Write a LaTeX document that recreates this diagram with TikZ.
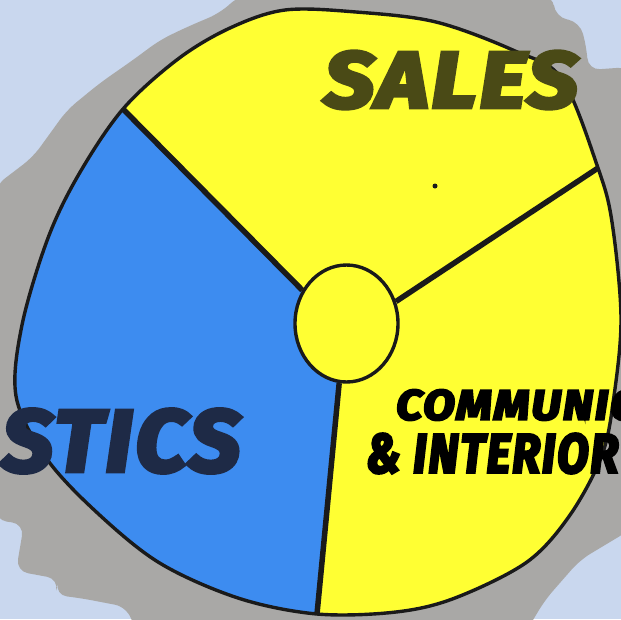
\documentclass[tikz,border=0pt]{standalone}
\usepackage{fontspec}
\usepackage{graphicx}
\usetikzlibrary{shapes.geometric, calc, backgrounds}
\newfontfamily\lblfont{Fira Sans}[BoldItalicFeatures={FakeBold=5}, LetterSpace=4]
\definecolor{paper}{HTML}{C9D7EE}
\definecolor{shadowGrey}{HTML}{A9A8A6}
\definecolor{pieYel}{HTML}{FFFF33}
\definecolor{pieBlue}{HTML}{3D8CF0}
\definecolor{ink}{HTML}{1A1A1A}
\definecolor{salesInk}{HTML}{4A4A16}
\definecolor{logInk}{HTML}{1E2A46}
\newcommand{\lbltext}[3]{\resizebox{#1}{#2}{\lblfont\bfseries\itshape #3}}

\begin{document}
\begin{tikzpicture}[x=1pt, y=-1pt,
  hub/.style={ellipse, draw=ink, line width=3.4pt, fill=pieYel, minimum width=103pt, minimum height=117pt, inner sep=0pt},
  spoke/.style={draw=ink, line width=5.5pt},
  rim/.style={draw=ink, line width=3.4pt},
  lbl/.style={inner sep=0pt},
  speck/.style={circle, fill=ink, inner sep=0pt, minimum size=5pt}]
\useasboundingbox (0,0) rectangle (621,619);
\clip (0,0) rectangle (621,619);
\coordinate (rimA) at (123,109);
\coordinate (rimB) at (598,168);
\coordinate (rimC) at (317,614);
\path[save path=\rimpath] plot[smooth cycle, tension=0.55] coordinates {(285,10) (356,12) (436,22) (515,51) (562,79) (rimB) (612,222) (621,317) (614,396) (602,455) (570,515) (527,562) (455,598) (396,612) (rimC) (238,598) (158,562) (91,507) (44,455) (16,396) (22,325) (48,238) (79,174) (rimA) (178,59) (230,28)};
\node[hub] (hub) at (346.5,323.5) {};
\draw[spoke] (hub.143) -- (rimA);
\draw[spoke] (hub.24) -- (rimB);
\draw[spoke] (hub.263) -- (rimC);
\begin{scope}[on background layer]
  \fill[paper] (0,0) rectangle (621,619);
  \fill[shadowGrey, rounded corners=12pt] (-5,186) -- (33,157) -- (67,110) -- (100,83) -- (133,60) -- (160,40) -- (187,27) -- (220,13) -- (240,-5) -- (553,-5) -- (555,17) -- (580,22) -- (587,50) -- (588,70) -- (630,67) -- (630,530) -- (580,560) -- (545,600) -- (527,630) -- (135,630) -- (127,607) -- (80,598) -- (55,595) -- (59,579) -- (16,571) -- (24,524) -- (-5,520) -- cycle;
  \begin{scope}
    \clip[use path=\rimpath];
    \fill[pieYel] (0,0) rectangle (621,619);
    \fill[pieBlue] (hub.center) -- (hub.143) -- ($(hub.143)!1.4!(rimA)$) -- (-20,40) -- (-20,660) -- ($(hub.263)!1.2!(rimC)$) -- (hub.263) -- cycle;
  \end{scope}
\end{scope}
\path[rim, use path=\rimpath];
\node[speck] (speck) at (435,186) {};
\node[lbl, text=salesInk] (sales) at (451,80) {\lbltext{253pt}{56pt}{SALES}};
\node[lbl, text=logInk] (logistics) at (121,441) {\lbltext{238pt}{62pt}{STICS}};
\node[lbl, text=black, anchor=west] (comm) at (396,405) {\lbltext{240pt}{30pt}{COMMUNIC}};
\node[lbl, text=black, anchor=west] (interior) at (366,453.5) {\lbltext{252pt}{39pt}{\& INTERIOR}};
\end{tikzpicture}
\end{document}
